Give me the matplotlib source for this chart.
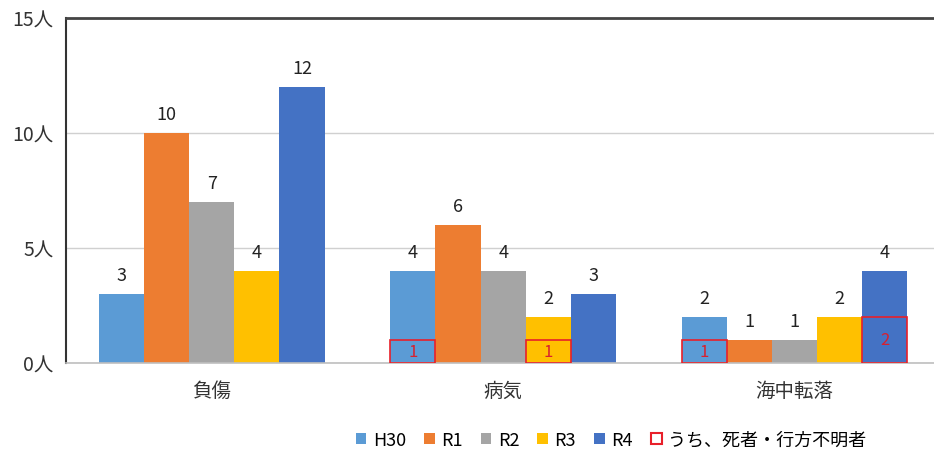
import numpy as np
import matplotlib.pyplot as plt
from matplotlib.patches import Patch

plt.rcParams['font.family'] = ['Noto Sans CJK JP', 'DejaVu Sans']

categories = ["負傷", "病気", "海中転落"]
years = ["H30", "R1", "R2", "R3", "R4"]
colors = ["#5B9BD5", "#ED7D31", "#A5A5A5", "#FFC000", "#4472C4"]

# injured / sick / fell overboard, per year
counts = {
    "H30": [3, 4, 2],
    "R1": [10, 6, 1],
    "R2": [7, 4, 1],
    "R3": [4, 2, 2],
    "R4": [12, 3, 4],
}
# of which dead or missing
deaths = {
    "H30": [0, 1, 1],
    "R1": [0, 0, 0],
    "R2": [0, 0, 0],
    "R3": [0, 1, 0],
    "R4": [0, 0, 2],
}
yticks = [0, 5, 10, 15]

fig = plt.figure(figsize=(9.34, 4.56), dpi=100)
ax = fig.add_axes([0.0707, 0.2018, 0.936, 0.7565])

x = np.arange(len(categories))
w = 0.155
for i, yr in enumerate(years):
    pos = x + (i - 2) * w
    bars = ax.bar(pos, counts[yr], width=w, color=colors[i], zorder=2)
    for b, v in zip(bars, counts[yr]):
        ax.annotate(str(v), (b.get_x() + w / 2, v), xytext=(0, 7),
                    textcoords="offset points", ha="center", va="bottom",
                    fontsize=13, color="#222222")
    d = np.array(deaths[yr])
    sel = d > 0
    if sel.any():
        ax.bar(pos[sel], d[sel], width=w, fill=False, edgecolor="#E8202A",
               linewidth=1.2, zorder=3)
        for p, v in zip(pos[sel], d[sel]):
            ax.text(p, v / 2, str(v), ha="center", va="center",
                    fontsize=12, color="#D8202E", zorder=4)

ax.set_xlim(-0.5, 2.5)
ax.set_ylim(0, 15)
ax.set_yticks(yticks)
ax.set_yticklabels([f"{t}人" for t in yticks], fontsize=14, color="#333333")
ax.set_xticks(x)
ax.set_xticklabels(categories, fontsize=14, color="#333333")
ax.tick_params(axis="both", length=0)
ax.tick_params(axis="y", pad=9)
ax.tick_params(axis="x", pad=12)

ax.yaxis.grid(True, color="#D0D0D0", linewidth=1)
ax.set_axisbelow(True)
ax.spines["right"].set_visible(False)
ax.spines["left"].set_color("#333333")
ax.spines["left"].set_linewidth(1.5)
ax.spines["top"].set_color("#444444")
ax.spines["top"].set_linewidth(2)
ax.spines["bottom"].set_color("#BFBFBF")
ax.spines["bottom"].set_linewidth(1.2)

handles = [Patch(facecolor=c, edgecolor="none") for c in colors]
handles.append(Patch(facecolor="white", edgecolor="#E8202A", linewidth=1.5))
labels = years + ["うち、死者・行方不明者"]
fig.legend(handles, labels, loc="center", bbox_to_anchor=(0.654, 0.033),
           ncol=6, frameon=False, fontsize=13, handlelength=0.6,
           handleheight=0.6, handletextpad=0.35, columnspacing=1.0)

fig.savefig("out.png", dpi=100)
